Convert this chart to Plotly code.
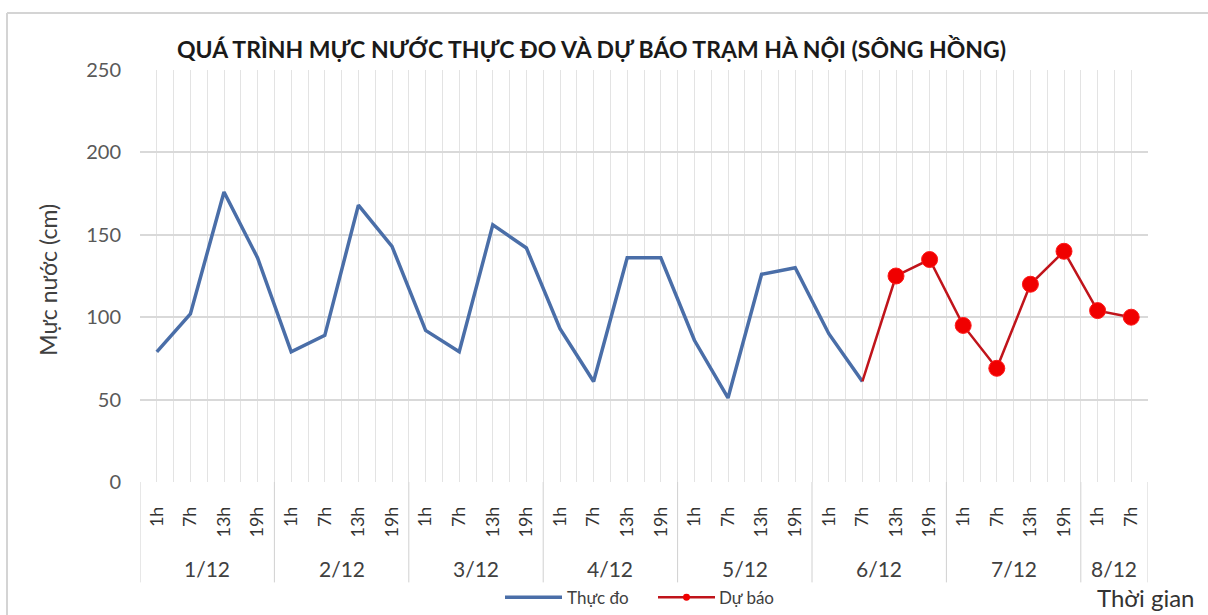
import plotly.graph_objects as go

# ---- data ----
days = ["1/12", "2/12", "3/12", "4/12", "5/12", "6/12", "7/12", "8/12"]
hours_per_day = [["1h", "7h", "13h", "19h"]] * 7 + [["1h", "7h"]]
hour_labels = [h for hs in hours_per_day for h in hs]
thuc_do = [79, 102, 176, 136, 79, 89, 168, 143, 92, 79, 156, 142,
           93, 61, 136, 136, 86, 51, 126, 130, 90, 61]
du_bao = [61, 125, 135, 95, 69, 120, 140, 104, 100]
du_bao_start = 21  # index of 6/12 7h

x_all = list(range(len(hour_labels)))
x_td = x_all[:len(thuc_do)]
x_db = x_all[du_bao_start:du_bao_start + len(du_bao)]

FONT = "Lato"
BLUE = "#4a6ea8"
DRED = "#c0141b"
RED = "#f00000"
W, H = 1208, 615
L, R, T, B = 140, 60, 70, 132.5
pw, ph = W - L - R, H - T - B

def px(xp):
    return (xp - L) / pw

def py(yp):
    return (H - B - yp) / ph

fig = go.Figure()
fig.add_trace(go.Scatter(
    x=x_td, y=thuc_do, mode="lines", name="Thực đo",
    line=dict(color=BLUE, width=3.5),
))
fig.add_trace(go.Scatter(
    x=x_db, y=du_bao, mode="lines+markers", name="Dự báo",
    line=dict(color=DRED, width=2.5),
    marker=dict(color=RED, opacity=1, size=[0] + [16] * (len(du_bao) - 1),
                line=dict(width=1, color="#ff1a1a")),
))

# day boundaries
bounds = [-0.5]
acc = -0.5
for hs in hours_per_day:
    acc += len(hs)
    bounds.append(acc)

shapes = []
for b in bounds:
    shapes.append(dict(type="line", xref="x", yref="paper", x0=b, x1=b,
                       y0=0, y1=py(583), line=dict(color="#d0d0d0", width=1)))
# outer frame
shapes.append(dict(type="line", xref="paper", yref="paper", x0=px(7), x1=px(1210),
                   y0=py(13), y1=py(13), line=dict(color="#d4d4d4", width=2)))
shapes.append(dict(type="line", xref="paper", yref="paper", x0=px(7), x1=px(7),
                   y0=py(13), y1=py(620), line=dict(color="#d4d4d4", width=2)))
# legend symbols
LEG_Y = 598
shapes.append(dict(type="line", xref="paper", yref="paper", x0=px(505), x1=px(562),
                   y0=py(LEG_Y), y1=py(LEG_Y), line=dict(color=BLUE, width=3.5)))
shapes.append(dict(type="line", xref="paper", yref="paper", x0=px(658), x1=px(715),
                   y0=py(LEG_Y), y1=py(LEG_Y), line=dict(color=DRED, width=2.5)))
shapes.append(dict(type="circle", xref="paper", yref="paper", x0=px(683), x1=px(690),
                   y0=py(LEG_Y + 3.5), y1=py(LEG_Y - 3.5),
                   fillcolor=RED, line=dict(width=0)))

annotations = []
for i, d in enumerate(days):
    c = (bounds[i] + bounds[i + 1]) / 2
    annotations.append(dict(x=c, y=py(569), xref="x", yref="paper", text=d,
                            showarrow=False, font=dict(family=FONT, size=21, color="#404040"),
                            xanchor="center", yanchor="middle"))
annotations.append(dict(x=px(591), y=py(49), xref="paper", yref="paper",
                        text="<b>QUÁ TRÌNH MỰC NƯỚC THỰC ĐO VÀ DỰ BÁO TRẠM HÀ NỘI (SÔNG HỒNG)</b>",
                        showarrow=False, font=dict(family=FONT, size=23, color="#1a1a1a"),
                        xanchor="center", yanchor="middle"))
annotations.append(dict(x=px(48), y=py(280), xref="paper", yref="paper",
                        text="Mực nước (cm)", textangle=-90, showarrow=False,
                        font=dict(family=FONT, size=23, color="#404040"),
                        xanchor="center", yanchor="middle"))
annotations.append(dict(x=px(1146), y=py(598), xref="paper", yref="paper",
                        text="Thời gian", showarrow=False,
                        font=dict(family=FONT, size=24, color="#333333"),
                        xanchor="center", yanchor="middle"))
annotations.append(dict(x=px(565), y=py(LEG_Y), xref="paper", yref="paper",
                        text="Thực đo", showarrow=False,
                        font=dict(family=FONT, size=17, color="#404040"),
                        xanchor="left", yanchor="middle"))
annotations.append(dict(x=px(717), y=py(LEG_Y), xref="paper", yref="paper",
                        text="Dự báo", showarrow=False,
                        font=dict(family=FONT, size=17, color="#404040"),
                        xanchor="left", yanchor="middle"))

fig.update_layout(
    width=W, height=H,
    margin=dict(l=L, r=R, t=T, b=B, autoexpand=False),
    paper_bgcolor="white", plot_bgcolor="white",
    font=dict(family=FONT, color="#595959"),
    showlegend=False,
    shapes=shapes,
    annotations=annotations,
    xaxis=dict(
        range=[-0.5, len(hour_labels) - 0.5],
        tickmode="array", tickvals=x_all, ticktext=hour_labels,
        tickangle=-90, ticks="", showgrid=True, gridcolor="#e3e3e3", gridwidth=1,
        tickfont=dict(family=FONT, size=18, color="#333333"),
        ticklabelstandoff=20,
        minor=dict(tickmode="array", tickvals=[i + 0.5 for i in range(-1, 30)],
                   showgrid=True, gridcolor="#e3e3e3", gridwidth=1, ticks=""),
        zeroline=False, showline=False, automargin=False,
    ),
    yaxis=dict(
        range=[0, 250], tickmode="linear", tick0=0, dtick=50,
        showgrid=True, gridcolor="#d9d9d9", gridwidth=1.5,
        tickfont=dict(family=FONT, size=20, color="#595959"),
        ticks="", ticklabelstandoff=18, zeroline=False, showline=False,
        automargin=False,
    ),
)

fig.write_html("out.html", config={"displayModeBar": False})

# remove the default 8px page margin so the figure sits at the window origin
with open("out.html", "r", encoding="utf-8") as f:
    html = f.read()
html = html.replace("<body>", '<body style="margin:0;overflow:hidden">', 1)
with open("out.html", "w", encoding="utf-8") as f:
    f.write(html)
